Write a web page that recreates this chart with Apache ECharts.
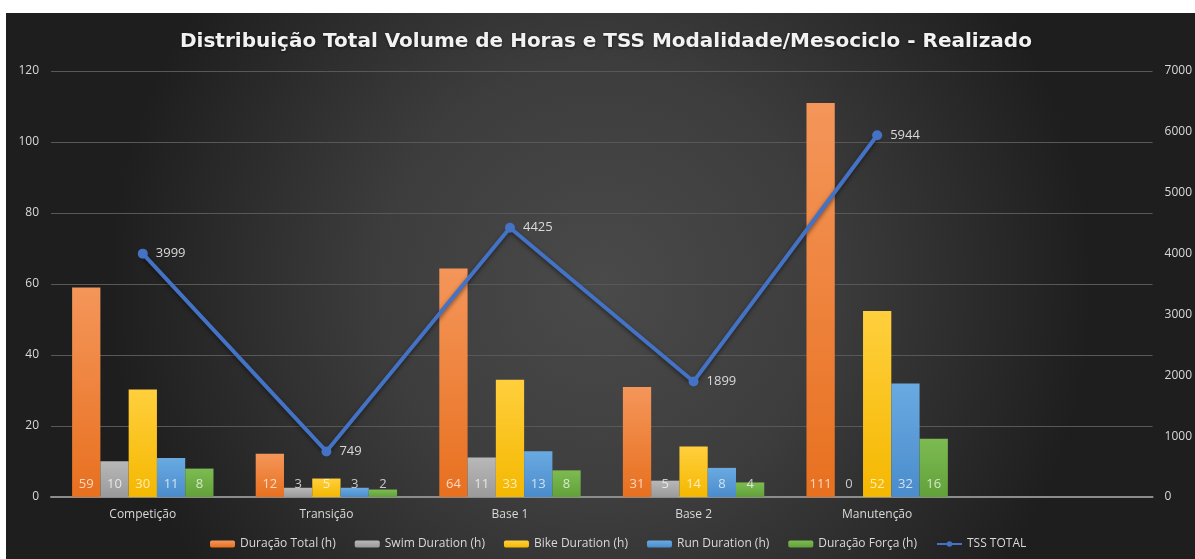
<!DOCTYPE html>
<html>
<head>
<meta charset="utf-8">
<script src="https://cdn.jsdelivr.net/npm/echarts@6/dist/echarts.min.js"></script>
<style>
  html, body { margin: 0; padding: 0; background: #fff; }
  #chart { position: absolute; left: 6px; top: 13px; width: 1189px; height: 546px; }
</style>
</head>
<body>
<div id="chart"></div>
<script>
// categorias (a última fica vazia, como no gráfico original)
var categorias = ['Competição', 'Transição', 'Base 1', 'Base 2', 'Manutenção', ''];
var duracaoTotal = [59, 12.2, 64.4, 31, 111];
var swim = [10.1, 2.6, 11.1, 4.6, 0];
var bike = [30.3, 5.2, 33, 14.2, 52.4];
var run = [11, 2.6, 12.9, 8.2, 32];
var forca = [8, 2.1, 7.5, 4.1, 16.4];
var tss = [3999, 749, 4425, 1899, 5944];

var chart = echarts.init(document.getElementById('chart'));

function grad(top, bottom) {
    return new echarts.graphic.LinearGradient(0, 0, 0, 1, [
        { offset: 0, color: top },
        { offset: 1, color: bottom }
    ]);
}

function barra(nome, dados, corTopo, corBase) {
    return {
        name: nome,
        type: 'bar',
        data: dados,
        barGap: '0%',
        barCategoryGap: '23%',
        itemStyle: { color: grad(corTopo, corBase) },
        label: {
            show: true,
            position: 'insideBottom',
            distance: 6,
            color: 'rgba(255,255,255,0.72)',
            fontSize: 13,
            fontFamily: 'Open Sans',
            formatter: function (p) { return Math.round(p.value); }
        }
    };
}

chart.setOption({
    backgroundColor: {
        type: 'radial', x: 0.5, y: 0.5, r: 0.9,
        colorStops: [
            { offset: 0, color: '#4a4a4a' },
            { offset: 0.45, color: '#3d3d3d' },
            { offset: 1, color: '#1e1e1e' }
        ]
    },
    title: {
        text: 'Distribuição Total Volume de Horas e TSS Modalidade/Mesociclo - Realizado',
        left: 169,
        top: 14,
        textStyle: {
            color: '#f2f2f2',
            fontSize: 20,
            fontWeight: 'bold',
            fontFamily: 'DejaVu Sans',
            textShadowColor: 'rgba(0,0,0,0.6)',
            textShadowBlur: 3,
            textShadowOffsetY: 1
        }
    },
    legend: {
        bottom: 4,
        left: 199,
        itemWidth: 25,
        itemHeight: 7,
        itemGap: 19,
        textStyle: { color: '#d9d9d9', fontSize: 12, fontFamily: 'Open Sans' },
        data: ['Duração Total (h)', 'Swim Duration (h)', 'Bike Duration (h)', 'Run Duration (h)', 'Duração Força (h)', 'TSS TOTAL']
    },
    grid: { left: 45, right: 37, top: 58, bottom: 62 },
    xAxis: {
        type: 'category',
        data: categorias,
        axisLine: { lineStyle: { color: '#8c8c8c', width: 2 } },
        axisTick: { show: false },
        axisLabel: { color: '#d9d9d9', fontSize: 12, fontFamily: 'Open Sans', margin: 12 }
    },
    yAxis: [{
        type: 'value',
        min: 0, max: 120, interval: 20,
        axisLabel: { color: '#d9d9d9', fontSize: 12, fontFamily: 'Open Sans', margin: 12 },
        splitLine: { lineStyle: { color: '#585858', width: 1 } }
    }, {
        type: 'value',
        min: 0, max: 7000, interval: 1000,
        axisLabel: {
            color: '#d9d9d9', fontSize: 12, fontFamily: 'Open Sans', margin: 12,
            formatter: function (v) { return String(v); }
        },
        splitLine: { show: false }
    }],
    series: [
        barra('Duração Total (h)', duracaoTotal, '#f4965a', '#e8701f'),
        barra('Swim Duration (h)', swim, '#b8b8b8', '#9a9a9a'),
        barra('Bike Duration (h)', bike, '#ffcf3d', '#f5b800'),
        barra('Run Duration (h)', run, '#6aaae2', '#4a8ccc'),
        barra('Duração Força (h)', forca, '#7dbb52', '#62a03a'),
        {
            name: 'TSS TOTAL',
            type: 'line',
            yAxisIndex: 1,
            data: tss,
            symbol: 'circle',
            symbolSize: 10,
            lineStyle: { color: '#4472c4', width: 4, shadowColor: 'rgba(0,0,0,0.5)', shadowBlur: 4, shadowOffsetY: 2 },
            itemStyle: { color: '#4472c4' },
            label: {
                show: true,
                position: 'right',
                distance: 8,
                color: '#d9d9d9',
                fontSize: 13,
                fontFamily: 'Open Sans'
            }
        }
    ]
});
</script>
</body>
</html>
